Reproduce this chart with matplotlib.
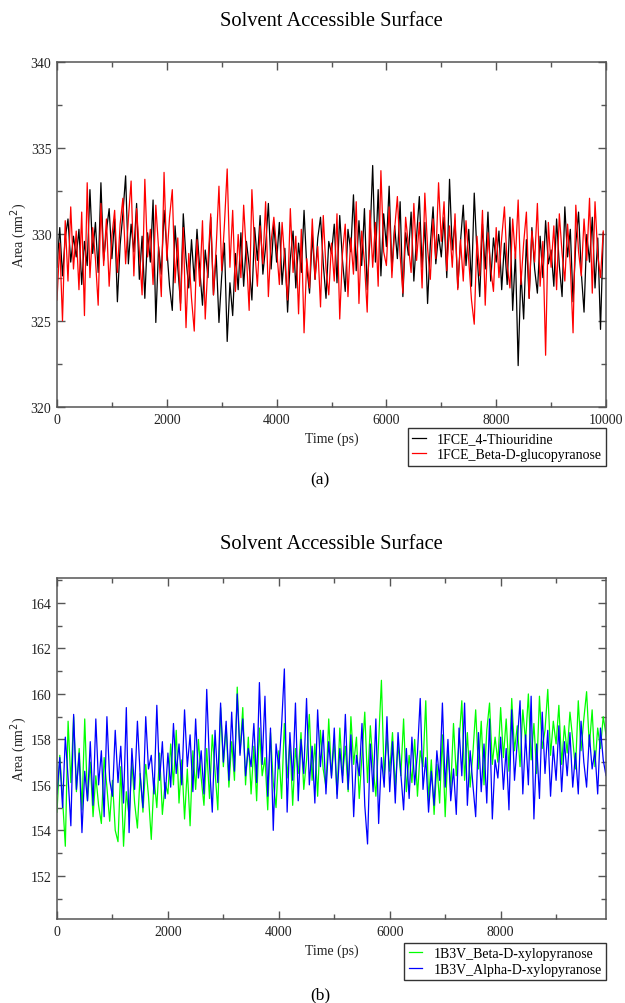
import numpy as np
import matplotlib
matplotlib.use("Agg")
from matplotlib import pyplot as plt
from matplotlib.ticker import MultipleLocator

plt.rcParams["font.family"] = ["Liberation Serif", "DejaVu Serif"]

# time axis (ps), one frame every 50 ps
time = np.arange(0, 10000, 50)

# (a) 1FCE
thiouridine = [
    328.1, 330.4, 327.6, 329.8, 330.9, 328.4, 329.9, 328.7, 330.3, 327.1, 329.6, 328.2, 332.6, 328.9, 330.7, 327.8, 333.0, 328.5, 330.2, 331.5,
    328.6, 330.9, 326.1, 329.4, 331.2, 333.4, 328.3, 330.6, 329.0, 331.8, 327.4, 329.9, 326.3, 330.1, 328.4, 332.0, 324.9, 329.3, 327.7, 331.4,
    329.2, 327.0, 325.6, 330.5, 328.1, 326.0, 331.2, 328.6, 326.9, 329.7, 327.3, 330.3, 328.0, 325.9, 329.1, 327.5, 331.0, 326.5, 328.8, 324.9,
    327.6, 329.5, 323.8, 327.2, 325.3, 328.9, 326.8, 330.1, 327.0, 329.6, 328.2, 326.2, 330.4, 328.5, 331.1, 327.7, 329.3, 331.8, 328.0, 330.6,
    328.4, 330.7, 327.1, 329.2, 325.5, 328.6, 330.2, 326.9, 329.5, 327.8, 331.4, 328.1, 326.6, 330.0, 327.4, 329.8, 331.0, 328.3, 326.3, 329.6,
    328.9, 330.6, 327.2, 331.1, 328.5, 326.7, 330.3, 329.0, 332.3, 327.9, 330.8, 328.2, 331.5, 326.8, 329.7, 334.0, 328.4, 332.6, 327.6, 331.2,
    329.3, 332.8, 327.9, 330.5, 328.6, 331.9, 326.4, 330.1, 328.8, 331.3, 327.3, 329.9, 332.2, 328.1, 330.7, 326.0, 329.4, 331.6, 328.3, 330.0,
    328.7, 331.0, 327.5, 333.2, 329.1, 330.8, 326.9, 329.6, 331.7, 328.2, 330.3, 327.0, 332.4, 328.9, 326.4, 330.6, 328.0, 331.3, 327.3, 329.8,
    328.4, 330.2, 326.8, 329.5, 327.1, 331.0, 325.6, 328.9, 322.4, 327.8, 325.1, 329.7, 326.3, 330.4, 328.0, 326.6, 329.9, 327.5, 330.8, 328.3,
    329.1, 327.0, 330.9, 328.2, 326.4, 331.6, 328.7, 330.3, 326.1, 329.5, 331.3, 327.8, 325.5, 330.0, 328.4, 331.0, 326.9, 329.8, 324.5, 330.1,
]
glucopyranose = [
    326.2, 329.5, 325.0, 330.8, 327.3, 331.6, 328.0, 330.2, 326.8, 331.3, 325.3, 333.0, 327.5, 330.4, 328.6, 325.9, 331.8, 328.2, 330.9, 327.0,
    329.9, 331.4, 327.8, 330.6, 332.1, 328.3, 330.9, 333.1, 327.6, 331.5, 329.0, 326.5, 333.2, 328.7, 330.3, 327.1, 331.7, 329.2, 326.4, 333.6,
    328.5, 331.0, 332.6, 327.2, 329.8, 325.6, 330.4, 324.6, 328.9, 326.3, 324.4, 329.7, 327.0, 330.8, 325.1, 328.4, 331.2, 326.5, 329.3, 332.8,
    327.9, 330.6, 333.8, 328.1, 331.4, 326.7, 330.0, 327.5, 331.7, 328.8, 325.6, 332.6, 329.2, 327.0, 330.5, 328.3, 331.9, 326.4, 329.6, 331.0,
    329.2, 327.1, 330.7, 328.4, 326.2, 331.5, 327.8, 329.9, 325.4, 330.3, 324.3, 328.6, 326.9, 330.9, 327.4, 329.3, 325.8, 331.1, 328.0, 326.5,
    329.5, 327.3, 331.2, 325.1, 328.9, 330.6, 326.4, 329.8, 327.7, 331.9, 326.0, 330.2, 328.4, 325.5, 331.4, 328.1, 330.7, 327.0, 333.7, 329.0,
    328.2, 331.6, 327.5, 330.3, 332.2, 328.8, 326.6, 331.0, 329.4, 327.8, 331.8, 328.5, 330.7, 326.9, 332.4, 329.2, 327.4, 330.9, 328.6, 333.0,
    329.6, 331.9, 327.9, 330.5, 328.1, 331.2, 326.8, 329.7, 327.3, 330.8, 328.5, 326.2, 324.8, 329.9, 327.6, 331.4, 325.9, 330.1, 328.0, 326.7,
    330.4, 327.5, 329.8, 331.6, 328.2, 326.9, 330.9, 328.6, 332.0, 327.1, 329.5, 331.3, 326.3, 330.2, 328.4, 331.8, 327.0, 329.6, 323.0, 330.7,
    328.1, 330.5, 326.8, 331.2, 328.9, 327.3, 330.6, 328.2, 324.3, 331.7, 329.0, 327.6, 330.9, 328.5, 332.1, 326.6, 331.9, 328.8, 327.5, 330.2,
]

# (b) 1B3V
beta_xylo = [
    154.8, 157.3, 155.4, 153.3, 158.8, 156.1, 159.0, 155.7, 157.6, 154.9, 158.9, 155.3, 157.0, 154.6, 156.4, 155.1, 154.3, 157.2, 155.9, 154.4,
    156.2, 154.0, 153.5, 156.8, 153.3, 155.7, 154.6, 157.0, 155.2, 154.1, 156.5, 154.8, 156.9, 155.5, 153.6, 156.3, 155.0, 157.4, 154.7, 156.1,
    155.6, 157.8, 156.0, 158.4, 155.2, 157.1, 154.5, 156.7, 154.2, 157.5, 155.8, 158.0, 156.3, 155.1, 157.6, 155.4, 158.2, 156.6, 154.9, 159.4,
    156.8, 158.6, 155.9, 157.9, 156.2, 160.3, 157.4, 159.4, 156.0, 158.1, 155.6, 157.7, 155.3, 158.5, 156.4, 157.2, 154.9, 158.3, 156.1, 155.0,
    157.5, 155.4, 158.7, 156.3, 158.0, 155.1, 157.6, 156.5, 158.3, 155.8, 157.1, 159.1, 156.2, 157.8, 155.5, 158.4, 156.7, 155.9, 158.9, 156.4,
    157.9, 155.6, 158.5, 156.4, 157.7, 155.7, 159.0, 156.9, 158.1, 155.4, 157.3, 159.2, 156.1, 158.6, 156.8, 155.5, 157.9, 160.6, 156.3, 158.2,
    156.6, 158.3, 155.9, 157.8, 156.4, 158.9, 155.7, 157.3, 156.1, 158.0, 155.5, 157.5, 156.8, 159.7, 155.3, 157.1, 154.7, 156.9, 155.2, 158.2,
    154.6, 157.6, 155.8, 158.7, 156.4, 157.9, 159.7, 156.2, 158.3, 155.9, 157.4, 159.3, 156.7, 158.8, 156.0, 158.4, 159.6, 156.9, 158.1, 157.0,
    159.4, 157.2, 158.9, 156.6, 159.8, 157.5, 158.6, 156.8, 159.3, 157.9, 160.0, 157.1, 158.7, 156.5, 159.9, 157.6, 158.4, 160.2, 157.3, 158.8,
    157.8, 159.5, 156.9, 158.6, 157.4, 159.2, 158.0, 156.7, 159.7, 157.5, 158.9, 160.1, 157.7, 159.3, 156.8, 158.5, 157.6, 159.0, 158.2, 157.4,
]
alpha_xylo = [
    155.6, 157.2, 155.0, 158.1, 156.3, 154.2, 159.1, 155.8, 157.4, 153.9, 156.6, 155.3, 157.9, 155.1, 158.9, 156.0, 157.5, 154.6, 159.0, 156.2,
    155.5, 158.4, 156.1, 157.7, 155.2, 159.4, 153.9, 157.6, 155.8, 158.8, 156.4, 155.0, 159.0, 156.7, 157.3, 155.6, 159.5, 156.2, 157.9, 155.4,
    157.4, 155.9, 158.7, 156.5, 157.8, 156.0, 159.3, 156.8, 158.2, 155.7, 158.9, 156.3, 157.5, 155.6, 160.2, 156.9, 154.8, 158.4, 156.1, 159.6,
    157.0, 158.8, 156.2, 159.2, 156.6, 160.0, 157.3, 158.9, 156.4, 157.6, 156.8, 158.7, 156.1, 160.5, 156.9, 159.9, 155.5, 158.5, 154.0, 157.8,
    156.7, 158.6, 161.1, 154.8, 158.3, 156.2, 159.6, 155.3, 158.0, 156.5, 159.8, 156.0, 157.7, 155.2, 159.3, 156.8, 158.4, 155.6, 157.9, 156.3,
    158.5, 155.4, 157.6, 156.1, 159.1, 155.8, 158.2, 154.6, 157.3, 156.4, 158.7, 155.1, 153.4, 157.8, 155.7, 158.9, 154.3, 157.2, 155.9, 159.0,
    155.7, 157.9, 155.2, 158.3, 156.5, 154.9, 157.6, 155.4, 158.1, 156.0, 157.4, 159.8, 155.8, 157.2, 154.8, 156.6, 155.1, 157.5, 156.2, 159.6,
    155.9, 158.0, 155.3, 156.7, 154.7, 158.5, 156.4, 159.6, 155.1, 157.5, 156.0, 154.6, 158.3, 155.7, 157.8, 155.2, 158.9, 154.5, 157.1, 156.3,
    158.1, 155.8, 157.6, 154.9, 159.3, 156.2, 157.9, 159.7, 155.6, 158.2, 156.0, 159.9, 154.5, 157.8, 155.4, 159.2, 156.5, 158.4, 155.5, 157.7,
    156.2, 158.6, 155.7, 157.9, 156.4, 158.3, 155.9, 157.4, 155.6, 158.8, 157.0, 155.9, 158.2, 156.7, 157.5, 155.6, 158.5, 157.1, 156.4, 158.0,
]

W, H = 625, 1004
fig = plt.figure(figsize=(W / 100, H / 100), dpi=100)


def px_axes(left, top, right, bottom):
    return fig.add_axes([left / W, 1 - bottom / H, (right - left) / W, (bottom - top) / H])


def style(ax, xmaj, ymin):
    for s in ax.spines.values():
        s.set_color("#555555")
        s.set_linewidth(1.1)
    ax.xaxis.set_major_locator(MultipleLocator(xmaj))
    ax.xaxis.set_minor_locator(MultipleLocator(xmaj / 2))
    ax.yaxis.set_minor_locator(MultipleLocator(ymin))
    ax.tick_params(which="both", direction="in", top=True, right=True,
                   color="#555555", labelsize=10, labelcolor="#222222", pad=4)
    ax.tick_params(which="major", length=6, width=1)
    ax.tick_params(which="minor", length=3.5, width=1)
    ax.set_xlabel("Time (ps)", fontsize=10, color="#222222", labelpad=4)
    ax.set_ylabel("Area (nm$^2$)", fontsize=10, color="#222222", labelpad=1)


def legend(ax, y):
    ax.legend(loc="upper right", bbox_to_anchor=(1.0, y), borderaxespad=0,
              fontsize=10, fancybox=False, edgecolor="#333333", framealpha=1,
              handlelength=1.0, handletextpad=0.8, borderpad=0.3, labelspacing=0.2)


# panel (a)
ax1 = px_axes(57, 63, 606, 408)
ax1.plot(time, thiouridine, color="black", lw=0.9, label="1FCE_4-Thiouridine")
ax1.plot(time, glucopyranose, color="red", lw=0.9, label="1FCE_Beta-D-glucopyranose")
ax1.set_xlim(0, 10000)
ax1.set_ylim(320, 340)
ax1.yaxis.set_major_locator(MultipleLocator(5))
style(ax1, 2000, 2.5)
legend(ax1, -0.062)
fig.text(331 / W, 1 - 22 / H, "Solvent Accessible Surface", ha="center", va="center", fontsize=14.8)
fig.text(320 / W, 1 - 480 / H, "(a)", ha="center", va="center", fontsize=12.5)

# panel (b)
ax2 = px_axes(57, 579, 606, 920)
ax2.plot(time, beta_xylo, color="#00ff00", lw=0.9, label="1B3V_Beta-D-xylopyranose")
ax2.plot(time, alpha_xylo, color="#0000ff", lw=0.9, label="1B3V_Alpha-D-xylopyranose")
ax2.set_xlim(0, 9900)
ax2.set_ylim(150.1, 165.1)
ax2.set_yticks(np.arange(152, 165, 2))
style(ax2, 2000, 1)
legend(ax2, -0.07)
fig.text(331 / W, 1 - 545 / H, "Solvent Accessible Surface", ha="center", va="center", fontsize=14.8)
fig.text(320 / W, 1 - 995 / H, "(b)", ha="center", va="center", fontsize=12.5)

fig.savefig("out.png", dpi=100)
